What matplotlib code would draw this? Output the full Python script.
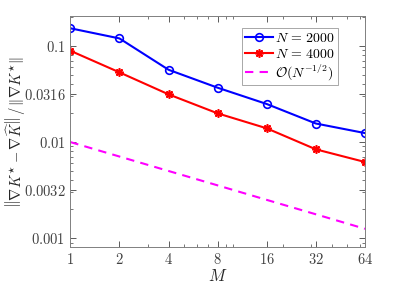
import numpy as np
import matplotlib
matplotlib.use("Agg")
import matplotlib.pyplot as plt
from matplotlib.ticker import FixedLocator, FixedFormatter, LogLocator, NullFormatter

plt.rcParams["mathtext.fontset"] = "cm"
plt.rcParams["font.family"] = "serif"
plt.rcParams["font.serif"] = ["DejaVu Serif"]

# — Data —
M = [1, 2, 4, 8, 16, 32, 64]
err_n2000 = [0.153, 0.120, 0.0566, 0.0368, 0.0249, 0.0156, 0.0124]
err_n4000 = [0.0893, 0.0532, 0.0314, 0.0199, 0.0139, 0.0084, 0.0062]
rate_ref = [0.01, 0.00707, 0.005, 0.00354, 0.0025, 0.00177, 0.00125]

x_ticks = [1, 2, 4, 8, 16, 32, 64]
y_ticks = [0.001, 0.0032, 0.01, 0.0316, 0.1]
y_labels = ["0.001", "0.0032", "0.01", "0.0316", "0.1"]

fig = plt.figure(figsize=(3.95, 2.87), dpi=100)
ax = fig.add_axes([0.178, 0.139, 0.746, 0.805])

ax.plot(M, err_n2000, color="blue", lw=1.5, marker="o", ms=5.5, mfc="none", mew=1.2,
        label=r"$N\,=\,2000$")
ax.plot(M, err_n4000, color="red", lw=1.5, marker=(8, 2, 0), ms=6, mew=1.2,
        label=r"$N\,=\,4000$")
ax.plot(M, rate_ref, color="magenta", lw=1.5, ls=(0, (4, 3)),
        label=r"$\mathcal{O}(N^{-1/2})$")

ax.set_xscale("log")
ax.set_yscale("log")
ax.set_xlim(1, 64)
ax.set_ylim(0.000806, 0.205)

ax.xaxis.set_major_locator(FixedLocator(x_ticks))
ax.xaxis.set_major_formatter(FixedFormatter([f"${v}$" for v in x_ticks]))
ax.xaxis.set_minor_locator(FixedLocator([3, 5, 6, 7, 9, 10, 20, 30, 40, 50, 60]))
ax.xaxis.set_minor_formatter(NullFormatter())
ax.yaxis.set_major_locator(FixedLocator(y_ticks))
ax.yaxis.set_major_formatter(FixedFormatter([f"${s}$" for s in y_labels]))
ax.yaxis.set_minor_locator(LogLocator(base=10, subs=np.arange(2, 10)))
ax.yaxis.set_minor_formatter(NullFormatter())

ax.tick_params(which="both", direction="in", top=True, right=True, colors="#404040",
               labelsize=10.5)
ax.tick_params(which="major", length=4, width=0.6)
ax.tick_params(which="minor", length=2, width=0.5)
for s in ax.spines.values():
    s.set_color("#808080")
    s.set_linewidth(0.7)

ax.set_xlabel(r"$M$", fontsize=12, color="#262626", labelpad=1)
ax.set_ylabel(r"$\left\Vert\nabla K^{\star}-\nabla\widehat{K}\right\Vert\,/\,\Vert\nabla K^{\star}\Vert$",
              fontsize=10.5, color="#262626")
ax.yaxis.set_label_coords(-0.148, 0.5)

leg = ax.legend(loc="upper right", bbox_to_anchor=(0.855, 0.902), bbox_transform=fig.transFigure,
                fontsize=10, frameon=True, fancybox=False,
                edgecolor="#808080", handlelength=2.0, handletextpad=0.15,
                borderpad=0.2, labelspacing=0.12, borderaxespad=0.0)
leg.get_frame().set_linewidth(0.6)

fig.savefig("out.png", dpi=100)
